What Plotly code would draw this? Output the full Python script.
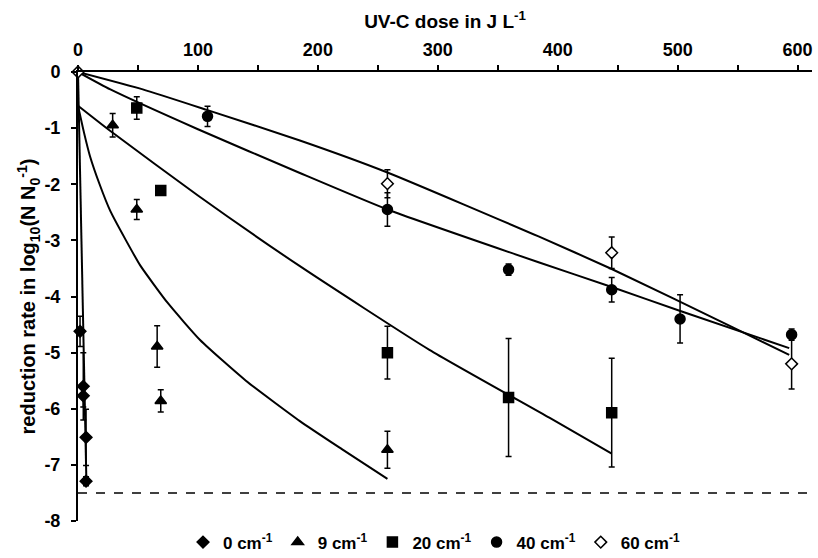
import plotly.graph_objects as go

# Messwerte (Dosis in J/L, Reduktion in log10)
dose_0 = [1.7, 4.4, 4.4, 6.7, 6.7]
red_0 = [-4.62, -5.6, -5.77, -6.51, -7.29]
err_0 = [0.27, 0.6, 0.2, 0.5, 0.08]

dose_9 = [28.9, 49, 66, 69, 258]
red_9 = [-0.95, -2.45, -4.89, -5.86, -6.73]
err_9 = [0.21, 0.18, 0.37, 0.2, 0.33]

dose_20 = [49, 69, 258, 359, 445]
red_20 = [-0.64, -2.11, -5.0, -5.8, -6.07]
err_20 = [0.2, 0.0, 0.47, 1.05, 0.97]

dose_40 = [108, 258, 359, 445, 502, 595]
red_40 = [-0.79, -2.45, -3.52, -3.88, -4.4, -4.68]
err_40 = [0.18, 0.3, 0.1, 0.22, 0.43, 0.1]

dose_60 = [0, 258, 445, 595]
red_60 = [0, -1.99, -3.22, -5.2]
err_60 = [0, 0.25, 0.28, 0.45]

# Modellkurven
fit0_x = [0, 7]
fit0_y = [0, -7.3]
fit9_x = [0, 5, 10, 18, 27, 40, 52, 75, 102, 140, 185, 220, 258]
fit9_y = [-0.6, -1.08, -1.5, -2.0, -2.48, -3.0, -3.45, -4.12, -4.78, -5.5, -6.22, -6.72, -7.25]
fit20_x = [0, 27, 100, 185, 293, 393, 445]
fit20_y = [-0.6, -1.05, -2.2, -3.46, -4.95, -6.16, -6.8]
fit40_x = [0, 27, 100, 185, 258, 384, 445, 501, 593]
fit40_y = [0, -0.31, -1.02, -1.80, -2.45, -3.39, -3.83, -4.25, -4.92]
fit60_x = [0, 54, 108, 185, 258, 384, 445, 546, 593]
fit60_y = [0, -0.31, -0.68, -1.22, -1.79, -2.93, -3.51, -4.55, -5.04]

detection_limit = -7.5

fig = go.Figure()

for fx, fy in [(fit0_x, fit0_y), (fit9_x, fit9_y), (fit20_x, fit20_y),
               (fit40_x, fit40_y), (fit60_x, fit60_y)]:
    fig.add_trace(go.Scatter(x=fx, y=fy, mode="lines", showlegend=False,
                             line=dict(color="black", width=2, shape="spline", smoothing=0.5),
                             hoverinfo="skip"))

serien = [
    ("0 cm<sup>-1</sup>", dose_0, red_0, err_0, "diamond", "black", 9),
    ("9 cm<sup>-1</sup>", dose_9, red_9, err_9, "triangle-up", "black", 10),
    ("20 cm<sup>-1</sup>", dose_20, red_20, err_20, "square", "black", 10),
    ("40 cm<sup>-1</sup>", dose_40, red_40, err_40, "circle", "black", 10),
    ("60 cm<sup>-1</sup>", dose_60, red_60, err_60, "diamond", "white", 9),
]

for name, x, y, e, sym, fill, size in serien:
    fig.add_trace(go.Scatter(
        x=x, y=y, mode="markers", name="<b>" + name + "</b>",
        marker=dict(symbol=sym, color=fill, size=size, line=dict(color="black", width=1.5)),
        error_y=dict(type="data", array=e, color="black", thickness=1.5, width=3),
        cliponaxis=False,
    ))

fig.add_hline(y=detection_limit, line=dict(color="black", width=1.5, dash="dash"))

font = "Liberation Sans, Arial, sans-serif"
fig.update_layout(
    width=818, height=558,
    margin=dict(l=78, r=6, t=72, b=37, autoexpand=False),
    paper_bgcolor="white", plot_bgcolor="white",
    font=dict(family=font, size=18, color="black"),
    legend=dict(orientation="h", x=0.485, xanchor="center", y=-0.048, yanchor="middle",
                font=dict(size=17), itemwidth=30, tracegroupgap=0),
    xaxis=dict(
        side="top", range=[0, 612], showgrid=False, zeroline=False, automargin=False,
        showline=True, linecolor="black", linewidth=2,
        tickmode="array", tickvals=[0, 100, 200, 300, 400, 500, 600],
        ticktext=["<b>%d</b>" % v for v in [0, 100, 200, 300, 400, 500, 600]],
        ticks="outside", ticklen=5, tickwidth=1.5, tickcolor="black", ticklabelstandoff=2,
        minor=dict(dtick=50, ticks="outside", ticklen=5, tickwidth=1.5, tickcolor="black"),
        title=dict(text="<b>UV-C dose in J L<sup>-1</sup></b>", font=dict(size=19), standoff=6),
    ),
    yaxis=dict(
        range=[-8, 0], showgrid=False, zeroline=False, automargin=False,
        showline=True, linecolor="black", linewidth=2,
        tickmode="array", tickvals=list(range(-8, 1)),
        ticktext=["<b>%d</b>" % v for v in range(-8, 1)],
        ticks="outside", ticklen=5, tickwidth=1.5, tickcolor="black", ticklabelstandoff=7,
        title=dict(text="<b>reduction rate in log<sub>10</sub>(N N<sub>0</sub><sup>-1</sup>)</b>",
                   font=dict(size=20), standoff=3),
    ),
)

fig.write_html("out.html", config={"displayModeBar": False},
               post_script="document.body.style.margin='0px';")
